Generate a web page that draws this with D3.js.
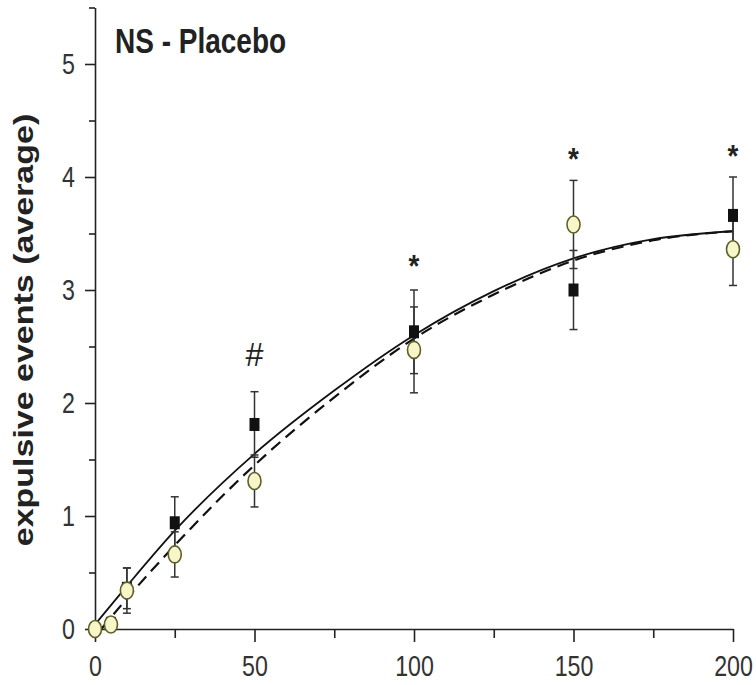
<!DOCTYPE html>
<html><head><meta charset="utf-8">
<script src="https://cdn.jsdelivr.net/npm/d3@7"></script>
<style>body{margin:0;background:#fff}svg{display:block}</style>
</head><body><svg id="c" width="756" height="685"></svg>
<script>
// ---- data ----
const doses = [0, 5, 10, 25, 50, 100, 150, 200];
const nsMean = [0, 0.05, 0.36, 0.94, 1.81, 2.63, 3.00, 3.66];
const nsErr = [0, 0, 0.18, 0.23, 0.29, 0.37, 0.35, 0.34];
const plMean = [0, 0.04, 0.34, 0.66, 1.31, 2.47, 3.58, 3.36];
const plErr = [0, 0, 0.20, 0.20, 0.23, 0.38, 0.39, 0.32];
const fitX = [0, 10, 25, 50, 75, 100, 125, 150, 175, 200];
const nsFit = [0.04, 0.38, 0.87, 1.55, 2.11, 2.60, 2.99, 3.28, 3.45, 3.52];
const plFitX = [2, 10, 25, 50, 75, 100, 125, 150, 175, 200];
const plFit = [0.0, 0.27, 0.74, 1.45, 2.05, 2.57, 2.96, 3.26, 3.44, 3.52];
const markX = [50, 100, 150, 200];
const markY = [2.44, 3.27, 4.22, 4.24];
const markSym = ["#", "*", "*", "*"];
const xTicks = [0, 50, 100, 150, 200];
const xMinor = [25, 75, 125, 175];
const yTicks = [0, 1, 2, 3, 4, 5];
const yMinor = [0.5, 1.5, 2.5, 3.5, 4.5, 5.5];
const title = "NS - Placebo";
const yLabel = "expulsive events (average)";

const svg = d3.select("#c");
const x = d3.scaleLinear().domain([0, 200]).range([95, 733]);
const y = d3.scaleLinear().domain([0, 5.5]).range([629, 7.5]);
const ink = "#222";
const F = "'Liberation Sans', Arial, Helvetica, sans-serif";

// axes
const gx = svg.append("g").attr("transform", `translate(0,${y(0)})`)
  .call(d3.axisBottom(x).tickValues(xTicks).tickFormat(d3.format("d")).tickSize(13).tickPadding(13).tickSizeOuter(0));
svg.append("g").attr("transform", `translate(0,${y(0)})`)
  .call(d3.axisBottom(x).tickValues(xMinor).tickSize(9).tickFormat("").tickSizeOuter(0))
  .select(".domain").remove();
const gy = svg.append("g").attr("transform", `translate(${x(0)},0)`)
  .call(d3.axisLeft(y).tickValues(yTicks).tickFormat(d3.format("d")).tickSize(10).tickPadding(10).tickSizeOuter(0));
svg.append("g").attr("transform", `translate(${x(0)},0)`)
  .call(d3.axisLeft(y).tickValues(yMinor).tickSize(6).tickFormat("").tickSizeOuter(0))
  .select(".domain").remove();
svg.selectAll(".domain, .tick line").attr("stroke", ink).attr("stroke-width", 1.6);
gx.selectAll("text").attr("font-family", F).attr("font-size", 29).attr("fill", "#333")
  .attr("transform", "scale(0.8,1)");
gy.selectAll("text").attr("font-family", F).attr("font-size", 29).attr("fill", "#333")
  .attr("x", -20 / 0.8).attr("transform", "scale(0.8,1)");

// fit curves
const lineS = d3.line().x((d, i) => x(fitX[i])).y(d => y(d)).curve(d3.curveMonotoneX);
const lineD = d3.line().x((d, i) => x(plFitX[i])).y(d => y(d)).curve(d3.curveMonotoneX);
svg.append("path").attr("d", lineS(nsFit)).attr("fill", "none").attr("stroke", "#111").attr("stroke-width", 1.8);
svg.append("path").attr("d", lineD(plFit)).attr("fill", "none").attr("stroke", "#111").attr("stroke-width", 2.2)
  .attr("stroke-dasharray", "12,7");

// error bars
function errBars(means, errs) {
  const g = svg.append("g").attr("stroke", "#333").attr("stroke-width", 1.5);
  doses.forEach((d, i) => {
    if (errs[i] <= 0) return;
    const cx = x(d), t = y(means[i] + errs[i]), b = y(means[i] - errs[i]);
    g.append("line").attr("x1", cx).attr("x2", cx).attr("y1", t).attr("y2", b);
    g.append("line").attr("x1", cx - 4).attr("x2", cx + 4).attr("y1", t).attr("y2", t);
    g.append("line").attr("x1", cx - 4).attr("x2", cx + 4).attr("y1", b).attr("y2", b);
  });
}
errBars(nsMean, nsErr);
errBars(plMean, plErr);

// markers
svg.append("g").selectAll("rect").data(nsMean).join("rect")
  .attr("x", (d, i) => x(doses[i]) - 5).attr("y", d => y(d) - 6.5)
  .attr("width", 10).attr("height", 13).attr("fill", "#111");
svg.append("g").selectAll("ellipse").data(plMean).join("ellipse")
  .attr("cx", (d, i) => x(doses[i])).attr("cy", d => y(d))
  .attr("rx", 6.5).attr("ry", 8.5).attr("fill", "#f6f6c8").attr("stroke", "#5e5e2a").attr("stroke-width", 1.6);

// significance symbols
markSym.forEach((s, i) => {
  const star = s === "*";
  const fs = star ? 31 : 34;
  const off = star ? 0.56 * fs : 0.36 * fs;
  svg.append("text").attr("transform", `translate(${x(markX[i])},${y(markY[i]) + off}) scale(${star ? 0.9 : 0.95},1)`)
    .attr("text-anchor", "middle").attr("font-family", F).attr("font-size", fs)
    .attr("font-weight", star ? "bold" : "normal").attr("fill", ink).text(s);
});

// title and y label
svg.append("text").attr("transform", "translate(115,53) scale(0.8,1)")
  .attr("font-family", F).attr("font-weight", "bold").attr("font-size", 35).attr("fill", ink).text(title);
svg.append("text").attr("transform", "translate(33,330) rotate(-90) scale(1,0.8)")
  .attr("text-anchor", "middle").attr("font-family", F).attr("font-weight", "bold")
  .attr("font-size", 34).attr("fill", ink).text(yLabel);
</script></body></html>
